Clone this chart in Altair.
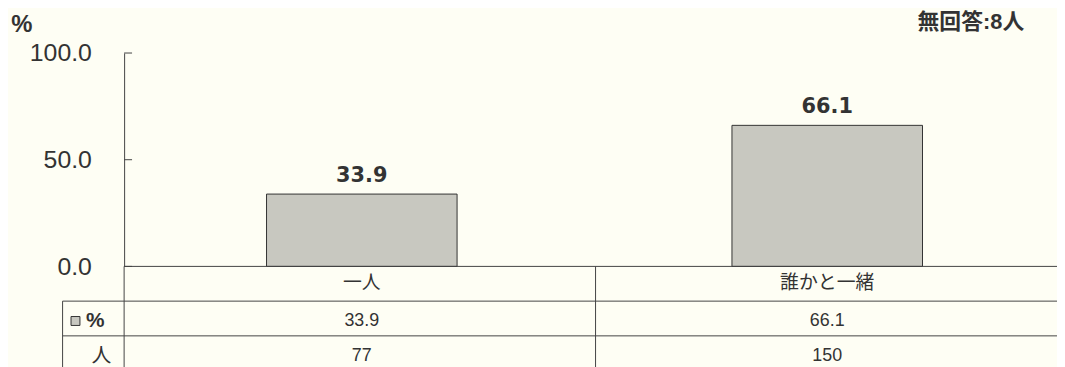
import altair as alt
import pandas as pd

# ---- data ----
categories = ["一人", "誰かと一緒"]
percents = [33.9, 66.1]
counts = [77, 150]
y_ticks = [0, 50, 100]
unit_label = "%"
no_answer_label = "無回答:8人"
row_label_pct = "%"
row_label_n = "人"

df = pd.DataFrame({"cat": categories, "pct": percents, "n": counts})
ticks_df = pd.DataFrame({"v": y_ticks})

W, H = 940, 215
X_LO, X_HI = 0.5, 2.483
FONT = "Liberation Sans, Arial, Noto Sans CJK JP"
TXT = "#333333"
LINE = "#444444"
BAR_FILL = "#c8c8c0"
BG = "#fefef4"

one = alt.Data(values=[{}])

# category slots 1, 2; the second slot runs past the right edge of the view
xscale = alt.Scale(domain=[X_LO, X_HI], nice=False, zero=False)
cat_list = "[" + ",".join("'" + c + "'" for c in categories) + "]"


def with_idx(chart):
    return chart.transform_calculate(idx=f"indexof({cat_list}, datum.cat) + 1")


xenc = alt.X("idx:Q", scale=xscale, axis=None)
yscale = alt.Scale(domain=[0, 100])
yenc = alt.Y("pct:Q", scale=yscale,
             axis=alt.Axis(values=y_ticks, format=".1f", ticks=False, grid=False,
                           labelPadding=33, labelFontSize=25, labelFont=FONT,
                           labelColor=TXT, domainColor=LINE, title=None))

base = alt.Chart(df)

bars = with_idx(base.mark_bar(width=192, fill=BAR_FILL,
                              stroke="#333333", strokeWidth=1)).encode(x=xenc, y=yenc)

bar_labels = with_idx(base.mark_text(font="DejaVu Sans", fontWeight="bold", fontSize=21,
                                     dy=-12, baseline="alphabetic", color=TXT)).encode(
    x=xenc, y=alt.Y("pct:Q", scale=yscale),
    text=alt.Text("pct:Q", format=".1f"))

tick_rules = alt.Chart(ticks_df).mark_rule(color=LINE).encode(
    y=alt.Y("v:Q", scale=yscale), x=alt.value(0), x2=alt.value(8))


def hrule(yv, x0, x1):
    return alt.Chart(one).mark_rule(color=LINE, strokeWidth=1).encode(
        y=alt.value(yv), x=alt.value(x0), x2=alt.value(x1))


def vrule(xv, y0, y1):
    return alt.Chart(one).mark_rule(color=LINE, strokeWidth=1).encode(
        x=alt.value(xv), y=alt.value(y0), y2=alt.value(y1))


def label(txt, xv, yv, size=18, weight="normal", align="center", font=FONT):
    return alt.Chart(one).mark_text(text=txt, fontSize=size, fontWeight=weight,
                                    align=align, font=font, color=TXT).encode(
        x=alt.value(xv), y=alt.value(yv))


baseline = alt.Chart(one).mark_rule(color=LINE).encode(
    y=alt.datum(0, scale=yscale), x=alt.value(0), x2=alt.value(W))

divider_px = W * (1.5 - X_LO) / (X_HI - X_LO)
table_lines = [
    hrule(250, -62, W),
    hrule(285, -62, W),
    vrule(-62, 250, 330),
    vrule(0, H, 330),
    vrule(divider_px + 1, H, 330),
]

row_cat = with_idx(base.mark_text(fontSize=19, font=FONT, color=TXT)).encode(
    x=xenc, y=alt.value(232), text="cat:N")
row_pct = with_idx(base.mark_text(fontSize=18, font=FONT, color=TXT)).encode(
    x=xenc, y=alt.value(270), text=alt.Text("pct:Q", format=".1f"))
row_n = with_idx(base.mark_text(fontSize=18, font=FONT, color=TXT)).encode(
    x=xenc, y=alt.value(305), text="n:Q")

swatch = alt.Chart(one).mark_square(size=81, fill=BAR_FILL, stroke="#333333",
                                    strokeWidth=1, opacity=1).encode(
    x=alt.value(-49), y=alt.value(270))

decor = [
    label(unit_label, -103, -28, size=24, weight="bold"),
    label(no_answer_label, 907, -31, size=22, weight="bold", align="right"),
    label(row_label_pct, -29, 270, size=21, weight="bold"),
    label(row_label_n, -23, 305, size=20),
]

chart = alt.layer(
    bars, bar_labels, tick_rules, baseline, *table_lines,
    row_cat, row_pct, row_n, swatch, *decor
).properties(
    width=W, height=H,
    padding={"left": 117, "top": 44, "right": 0, "bottom": 100},
    autosize=alt.AutoSizeParams(type="none"),
    background=BG,
).configure_view(stroke=None)

chart.save("out.html", embed_options={"renderer": "svg", "actions": False})
